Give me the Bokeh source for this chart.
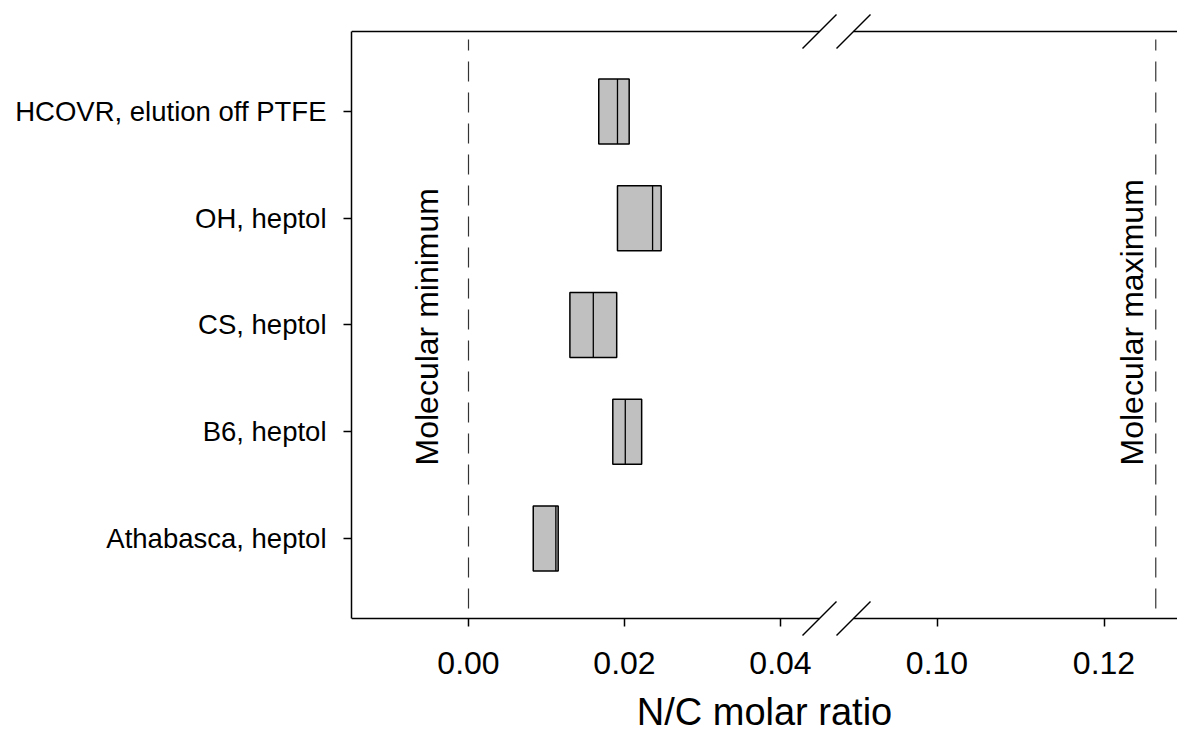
import numpy as np
from math import pi
from bokeh.plotting import figure
from bokeh.models import ColumnDataSource, FixedTicker, Arrow, Label, Range1d
from bokeh.embed import file_html
from bokeh.resources import INLINE

# ---------------- data ----------------
samples = ["Athabasca, heptol", "B6, heptol", "CS, heptol", "OH, heptol", "HCOVR, elution off PTFE"]
q1 = [0.0083, 0.0185, 0.0130, 0.0191, 0.0167]
median = [0.0112, 0.0201, 0.0160, 0.0236, 0.0191]
q3 = [0.0115, 0.0222, 0.0190, 0.0247, 0.0206]
molecular_min = 0.0
molecular_max = 0.1262
tick_values = [0.00, 0.02, 0.04, 0.10, 0.12]
tick_labels = ["0.00", "0.02", "0.04", "0.10", "0.12"]
x_title = "N/C molar ratio"

# ---------------- broken axis mapping ----------------
PX_PER_UNIT = 7800.0              # left segment scale
BREAK_LO = 0.045                  # left segment ends here
BREAK_HI = 0.090                  # right segment starts here
GAP = 34 / PX_PER_UNIT            # visual gap between the two segments (axis units)
RIGHT_SCALE = 8350.0 / PX_PER_UNIT  # right segment is drawn slightly stretched


def to_axis(v):
    v = np.asarray(v, dtype=float)
    return np.where(v <= BREAK_LO, v, BREAK_LO + GAP + (v - BREAK_HI) * RIGHT_SCALE)


FONT = "Liberation Sans"
W, H = 1177, 736
LEFT, TOP, BOTTOM = 351, 10, 100
PY = 106.73                        # pixels per category step
X0 = -0.015
X1 = X0 + (W - LEFT) / PX_PER_UNIT
BOX_B, BOX_T = 0.25, 5.75          # visible frame box (y)
Y0 = BOX_B - 18 / PY
Y1 = BOX_T + 21 / PY

p = figure(width=W, height=H, x_range=Range1d(X0, X1), y_range=Range1d(Y0, Y1),
           output_backend="svg", toolbar_location=None,
           min_border_left=LEFT, min_border_top=TOP, min_border_bottom=BOTTOM,
           min_border_right=0)
p.outline_line_color = None
p.grid.visible = False
p.background_fill_color = "white"
p.border_fill_color = "white"

ypos = np.arange(1, len(samples) + 1, dtype=float)
half = 0.305
src = ColumnDataSource(dict(
    left=to_axis(q1), right=to_axis(q3), med=to_axis(median),
    bottom=ypos - half, top=ypos + half, y=ypos,
))
p.quad(left="left", right="right", bottom="bottom", top="top", source=src,
       fill_color="#c0c0c0", line_color="black", line_width=1.5)
p.segment(x0="med", y0="bottom", x1="med", y1="top", source=src,
          line_color="black", line_width=1.3)

# reference lines (dashed)
ref = ColumnDataSource(dict(x=to_axis([molecular_min, molecular_max]),
                            y0=[BOX_B + 10 / PY] * 2, y1=[BOX_T - 8 / PY] * 2))
p.segment(x0="x", y0="y0", x1="x", y1="y1", source=ref,
          line_color="#333333", line_width=1.2, line_dash="20 11")

p.add_layout(Label(x=-0.0053, y=1.684, text="Molecular minimum", angle=pi / 2,
                   text_align="left", text_baseline="middle",
                   text_font=FONT, text_font_size="32px", text_color="black"))
p.add_layout(Label(x=float(to_axis(0.12335)), y=1.684, text="Molecular maximum", angle=pi / 2,
                   text_align="left", text_baseline="middle",
                   text_font=FONT, text_font_size="32px", text_color="black"))

# frame lines (top and bottom) with break marks
seg_right_start = BREAK_LO + GAP
dx = 17 / PX_PER_UNIT
dy = 17 / PY
for yy in (BOX_B, BOX_T):
    p.add_layout(Arrow(end=None, x_start=X0, y_start=yy, x_end=BREAK_LO, y_end=yy,
                       line_color="black", line_width=1.5))
    p.add_layout(Arrow(end=None, x_start=seg_right_start, y_start=yy, x_end=X1, y_end=yy,
                       line_color="black", line_width=1.5))
    for xc in (BREAK_LO, seg_right_start):
        p.add_layout(Arrow(end=None, x_start=xc - dx, y_start=yy - dy, x_end=xc + dx, y_end=yy + dy,
                           line_color="black", line_width=1.5))

# x axis: sits on the frame edge 18 px below the visible bottom line,
# ticks are shifted up so they start at the visible line
xa = p.xaxis[0]
xa.ticker = FixedTicker(ticks=[float(t) for t in to_axis(tick_values)])
xa.major_label_overrides = {float(t): lab for t, lab in zip(to_axis(tick_values), tick_labels)}
xa.axis_line_color = None
xa.minor_tick_line_color = None
xa.major_tick_in = 18
xa.major_tick_out = -10
xa.major_tick_line_width = 1.5
xa.major_label_text_font = FONT
xa.major_label_text_font_size = "32px"
xa.major_label_text_color = "black"
xa.major_label_standoff = 15
xa.axis_label = x_title
xa.axis_label_standoff = 14
xa.axis_label_text_font = FONT
xa.axis_label_text_font_size = "38px"
xa.axis_label_text_font_style = "normal"
xa.axis_label_text_color = "black"

# y axis
ya = p.yaxis[0]
ya.bounds = (BOX_B, BOX_T)
ya.ticker = FixedTicker(ticks=[float(v) for v in ypos])
ya.major_label_overrides = {float(v): s for v, s in zip(ypos, samples)}
ya.axis_line_color = "black"
ya.axis_line_width = 1.5
ya.minor_tick_line_color = None
ya.major_tick_in = 0
ya.major_tick_out = 8
ya.major_tick_line_width = 1.5
ya.major_label_text_font = FONT
ya.major_label_text_font_size = "27.5px"
ya.major_label_text_color = "black"
ya.major_label_standoff = 17

open("out.html", "w").write(file_html(p, INLINE))
